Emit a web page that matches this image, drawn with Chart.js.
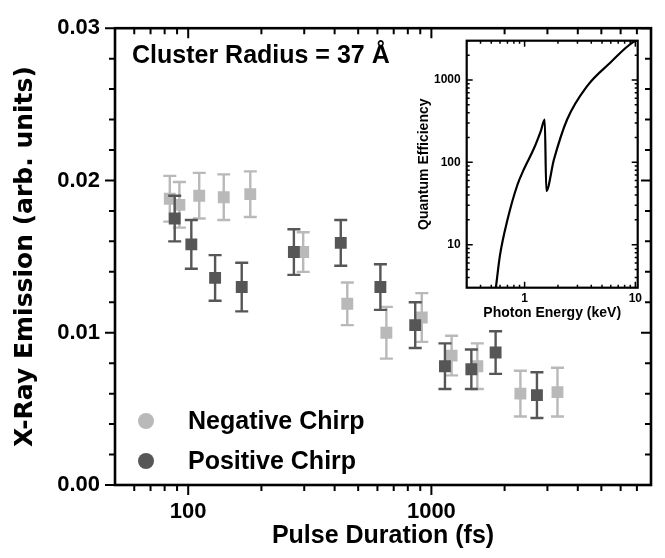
<!DOCTYPE html>
<html>
<head>
<meta charset="utf-8">
<script src="https://cdn.jsdelivr.net/npm/chart.js@4.4.1/dist/chart.umd.min.js"></script>
<style>
  html, body { margin: 0; padding: 0; background: #ffffff; }
  #wrap { position: relative; width: 665px; height: 558px; }
  #main { position: absolute; left: 0; top: 0; }
  #inset { position: absolute; left: 412px; top: 25px; }
</style>
</head>
<body>
<div id="wrap">
  <canvas id="main" width="665" height="558"></canvas>
  <canvas id="inset" width="250" height="305"></canvas>
</div>
<script>
// ---------- data ----------
const seriesNames = ['Negative Chirp', 'Positive Chirp'];
const clusterLabel = 'Cluster Radius = 37 Å';

const negDuration = [84, 92, 111, 140, 180, 297, 451, 653, 913, 1211, 1545, 2323, 3300];
const negEmission = [0.0188, 0.0184, 0.0190, 0.0189, 0.0191, 0.0153, 0.0119, 0.0100, 0.0110, 0.0085, 0.0078, 0.0060, 0.0061];
const negError    = [0.0015, 0.0015, 0.0015, 0.0015, 0.0015, 0.0013, 0.0014, 0.0017, 0.0016, 0.0013, 0.0015, 0.0015, 0.0016];

const posDuration = [88, 103, 129, 166, 272, 424, 617, 858, 1137, 1460, 1837, 2717];
const posEmission = [0.0175, 0.0158, 0.0136, 0.0130, 0.0153, 0.0159, 0.0130, 0.0105, 0.0078, 0.0076, 0.0087, 0.0059];
const posError    = [0.0015, 0.0016, 0.0015, 0.0016, 0.0015, 0.0015, 0.0015, 0.0015, 0.0015, 0.0013, 0.0014, 0.0015];

const xMajorTicks = [100, 1000];
const xMinorTicks = [60, 70, 80, 90, 200, 300, 400, 500, 600, 700, 800, 900, 2000, 3000, 4000, 5000, 6000, 7000];
const yMajorTicks = [0, 0.01, 0.02, 0.03];
const yMinorTicks = [0.002, 0.004, 0.006, 0.008, 0.012, 0.014, 0.016, 0.018, 0.022, 0.024, 0.026, 0.028];

// inset: detector quantum efficiency
const photonEnergy = [0.55, 0.60, 0.70, 0.86, 1.00, 1.21, 1.40, 1.52, 1.57, 1.84, 2.42, 3.67, 5.96, 9.64, 10.5];
const quantumEff   = [3, 7.5, 20, 53, 86, 146, 240, 330, 45, 108, 331, 844, 1630, 2900, 3000];
const insetXMajor = [1, 10];
const insetXMinor = [0.4, 0.5, 0.6, 0.7, 0.8, 0.9, 2, 3, 4, 5, 6, 7, 8, 9];
const insetYMajor = [10, 100, 1000];
const insetYMinor = [4, 5, 6, 7, 8, 9, 20, 30, 40, 50, 60, 70, 80, 90, 200, 300, 400, 500, 600, 700, 800, 900, 2000, 3000];

// ---------- plugins ----------
const SANS = '"Liberation Sans", Arial, Helvetica, sans-serif';

const frameTicks = {
  id: 'frameTicks',
  afterDraw(chart, args, o) {
    const {ctx, chartArea: a, scales} = chart;
    const xs = scales.x, ys = scales.y;
    ctx.save();
    ctx.strokeStyle = '#000';
    ctx.lineWidth = o.tickWidth;
    ctx.lineCap = 'butt';
    ctx.beginPath();
    const outB = o.outsideBottomLeft ? 1 : -1;
    const xt = (vals, len) => vals.forEach(v => {
      const p = xs.getPixelForValue(v);
      ctx.moveTo(p, a.bottom); ctx.lineTo(p, a.bottom + outB * len);
      ctx.moveTo(p, a.top); ctx.lineTo(p, a.top + len);
    });
    const yt = (vals, len) => vals.forEach(v => {
      const p = ys.getPixelForValue(v);
      ctx.moveTo(a.left, p); ctx.lineTo(a.left - outB * len, p);
      ctx.moveTo(a.right, p); ctx.lineTo(a.right - len, p);
    });
    xt(o.xMajor, o.majorLen); xt(o.xMinor, o.minorLen);
    yt(o.yMajor, o.majorLen); yt(o.yMinor, o.minorLen);
    ctx.stroke();
    ctx.lineWidth = o.frameWidth;
    ctx.strokeRect(a.left, a.top, a.right - a.left, a.bottom - a.top);
    ctx.restore();
  }
};

const errorBars = {
  id: 'errorBars',
  beforeDatasetDraw(chart, args) {
    const ds = chart.data.datasets[args.index];
    if (!ds.errors) return;
    const {ctx, scales: {x, y}} = chart;
    ctx.save();
    ctx.strokeStyle = ds.backgroundColor;
    ctx.lineWidth = 2.4;
    ds.data.forEach((p, i) => {
      const px = x.getPixelForValue(p.x);
      const t = y.getPixelForValue(p.y + ds.errors[i]);
      const b = y.getPixelForValue(p.y - ds.errors[i]);
      ctx.beginPath();
      ctx.moveTo(px, t); ctx.lineTo(px, b);
      ctx.moveTo(px - 6.5, t); ctx.lineTo(px + 6.5, t);
      ctx.moveTo(px - 6.5, b); ctx.lineTo(px + 6.5, b);
      ctx.stroke();
    });
    ctx.restore();
  }
};

const annotations = {
  id: 'annotations',
  afterDraw(chart) {
    const ctx = chart.ctx;
    ctx.save();
    ctx.fillStyle = '#000';
    ctx.textBaseline = 'middle';
    ctx.textAlign = 'left';
    ctx.font = 'bold 25px ' + SANS;
    ctx.fillText(clusterLabel, 132, 56);
    chart.data.datasets.forEach((ds, i) => {
      const yy = 421 + i * 40;
      ctx.fillStyle = ds.backgroundColor;
      ctx.beginPath();
      ctx.arc(146, yy, 8, 0, Math.PI * 2);
      ctx.fill();
      ctx.fillStyle = '#000';
      ctx.fillText(ds.label, 188, yy + 1);
    });
    ctx.restore();
  }
};

// ---------- main chart ----------
const toPts = (xs, ys) => xs.map((v, i) => ({x: v, y: ys[i]}));

new Chart(document.getElementById('main'), {
  type: 'scatter',
  data: {
    datasets: [
      { label: seriesNames[0], data: toPts(negDuration, negEmission), errors: negError,
        backgroundColor: '#b9b9b9', borderWidth: 0, pointStyle: 'rect', pointRadius: 8.4, order: 1 },
      { label: seriesNames[1], data: toPts(posDuration, posEmission), errors: posError,
        backgroundColor: '#565656', borderWidth: 0, pointStyle: 'rect', pointRadius: 8.4, order: 0 }
    ]
  },
  options: {
    responsive: false,
    animation: false,
    devicePixelRatio: 1,
    layout: { padding: { top: 18, right: 10, left: 0, bottom: 0 } },
    plugins: {
      legend: { display: false },
      tooltip: { enabled: false },
      frameTicks: { tickWidth: 2, frameWidth: 2.6, majorLen: 10, minorLen: 6, outsideBottomLeft: true,
        xMajor: xMajorTicks, xMinor: xMinorTicks, yMajor: yMajorTicks, yMinor: yMinorTicks }
    },
    scales: {
      x: {
        type: 'logarithmic', min: 50, max: 8000,
        grid: { display: false, drawTicks: false },
        border: { display: false },
        afterFit: s => { s.height = 73; },
        ticks: {
          autoSkip: false, maxRotation: 0, padding: 14,
          color: '#000', font: { family: SANS, size: 22, weight: 'bold' },
          callback: v => xMajorTicks.some(m => Math.abs(v - m) < 1e-6) ? String(v) : ''
        },
        title: { display: true, text: 'Pulse Duration (fs)', color: '#000',
          font: { family: SANS, size: 25, weight: 'bold' }, padding: { top: 0, bottom: 7 } }
      },
      y: {
        type: 'linear', min: 0, max: 0.03,
        grid: { display: false, drawTicks: false },
        border: { display: false },
        afterFit: s => { s.width = 115; },
        ticks: {
          stepSize: 0.01, padding: 15,
          color: '#000', font: { family: SANS, size: 22, weight: 'bold' },
          callback: v => Number(v).toFixed(2)
        },
        title: { display: true, text: 'X-Ray Emission (arb. units)', color: '#000',
          font: { family: '"DejaVu Sans", sans-serif', size: 25, weight: 'bold' }, padding: { top: 10, bottom: 0 } }
      }
    }
  },
  plugins: [errorBars, frameTicks, annotations]
});

// ---------- inset chart ----------
new Chart(document.getElementById('inset'), {
  type: 'scatter',
  data: {
    datasets: [{
      data: toPts(photonEnergy, quantumEff),
      showLine: true, borderColor: '#000', borderWidth: 2.2, pointRadius: 0,
      cubicInterpolationMode: 'monotone', fill: false
    }]
  },
  options: {
    responsive: false,
    animation: false,
    devicePixelRatio: 1,
    layout: { padding: { top: 15.7, right: 24.3, left: 0, bottom: 0 } },
    plugins: {
      legend: { display: false },
      tooltip: { enabled: false },
      frameTicks: { tickWidth: 1.5, frameWidth: 2.2, majorLen: 6, minorLen: 3, outsideBottomLeft: false,
        xMajor: insetXMajor, xMinor: insetXMinor, yMajor: insetYMajor, yMinor: insetYMinor }
    },
    scales: {
      x: {
        type: 'logarithmic', min: 0.3, max: 10.5,
        grid: { display: false, drawTicks: false },
        border: { display: false },
        afterFit: s => { s.height = 42.3; },
        ticks: {
          autoSkip: false, maxRotation: 0, padding: 4,
          color: '#000', font: { family: SANS, size: 12, weight: 'bold' },
          callback: v => insetXMajor.some(m => Math.abs(v - m) < 1e-6) ? String(v) : ''
        },
        title: { display: true, text: 'Photon Energy (keV)', color: '#000',
          font: { family: SANS, size: 14, weight: 'bold' }, padding: { top: 0, bottom: 8 } }
      },
      y: {
        type: 'logarithmic', min: 3, max: 3000,
        grid: { display: false, drawTicks: false },
        border: { display: false },
        afterFit: s => { s.width = 54.7; },
        ticks: {
          autoSkip: false, padding: 6,
          color: '#000', font: { family: SANS, size: 12, weight: 'bold' },
          callback: v => insetYMajor.some(m => Math.abs(v - m) < 1e-6) ? String(v) : ''
        },
        title: { display: true, text: 'Quantum Efficiency', color: '#000',
          font: { family: SANS, size: 14, weight: 'bold' }, padding: { top: 4, bottom: 0 } }
      }
    }
  },
  plugins: [frameTicks]
});
</script>
</body>
</html>
